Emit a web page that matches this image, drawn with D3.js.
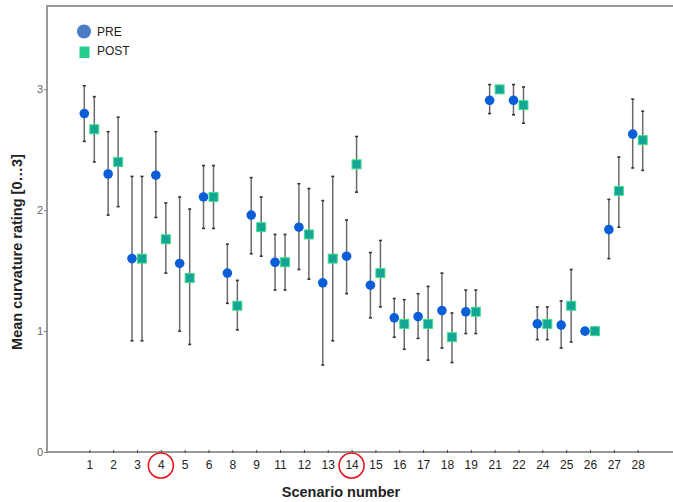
<!DOCTYPE html>
<html>
<head>
<meta charset="utf-8">
<script src="https://cdn.jsdelivr.net/npm/d3@7"></script>
<style>
  body { margin: 0; background: #fff; }
  svg { display: block; font-family: "Liberation Sans", Arial, sans-serif; }
</style>
</head>
<body>
<svg id="chart" width="673" height="502"></svg>
<script>
const scenarios = ['1', '2', '3', '4', '5', '6', '8', '9', '11', '12', '13', '14',
  '15', '16', '17', '18', '19', '21', '22', '24', '25', '26', '27', '28'];
const circled = ['4', '14'];

const preMean = [2.80, 2.30, 1.60, 2.29, 1.56, 2.11, 1.48, 1.96, 1.57, 1.86, 1.40, 1.62,
  1.38, 1.11, 1.12, 1.17, 1.16, 2.91, 2.91, 1.06, 1.05, 1.00, 1.84, 2.63];
const preLow = [2.57, 1.96, 0.92, 1.94, 1.00, 1.85, 1.23, 1.64, 1.34, 1.51, 0.72, 1.31,
  1.11, 0.95, 0.94, 0.86, 0.98, 2.80, 2.79, 0.93, 0.86, 1.00, 1.60, 2.35];
const preHigh = [3.03, 2.65, 2.28, 2.65, 2.11, 2.37, 1.72, 2.27, 1.80, 2.22, 2.08, 1.92,
  1.65, 1.27, 1.31, 1.48, 1.34, 3.04, 3.04, 1.20, 1.25, 1.00, 2.09, 2.92];

const postMean = [2.67, 2.40, 1.60, 1.76, 1.44, 2.11, 1.21, 1.86, 1.57, 1.80, 1.60, 2.38,
  1.48, 1.06, 1.06, 0.95, 1.16, 3.00, 2.87, 1.06, 1.21, 1.00, 2.16, 2.58];
const postLow = [2.40, 2.03, 0.92, 1.48, 0.89, 1.85, 1.01, 1.62, 1.34, 1.43, 0.92, 2.15,
  1.20, 0.85, 0.76, 0.74, 0.98, 3.00, 2.72, 0.93, 0.91, 1.00, 1.86, 2.33];
const postHigh = [2.94, 2.77, 2.28, 2.06, 2.01, 2.37, 1.42, 2.11, 1.80, 2.18, 2.28, 2.61,
  1.75, 1.26, 1.37, 1.15, 1.34, 3.00, 3.02, 1.20, 1.51, 1.00, 2.44, 2.82];

const yTicks = [0, 1, 2, 3];

const svg = d3.select('#chart');
const m = { left: 47, top: 6, bottom: 452, right: 673 };

const x = d3.scalePoint().domain(scenarios).range([89.3, 637.7]);
const y = d3.scaleLinear().domain([0, 3.69]).range([m.bottom, m.top]);

const series = [
  { name: 'PRE', mean: preMean, low: preLow, high: preHigh, dx: -5 },
  { name: 'POST', mean: postMean, low: postLow, high: postHigh, dx: 5 }
];

// frame
svg.append('path')
  .attr('d', `M${m.right},${m.top}H${m.left}V${m.bottom}H${m.right}`)
  .attr('fill', 'none')
  .attr('stroke', '#999')
  .attr('stroke-width', 2);

// y axis
const yAxis = svg.append('g')
  .attr('transform', `translate(${m.left},0)`)
  .call(d3.axisLeft(y).tickValues(yTicks).tickSize(3).tickFormat(d3.format('d')));
yAxis.select('.domain').remove();
yAxis.selectAll('line').attr('stroke', '#777');
yAxis.selectAll('text').attr('fill', '#666').style('font-size', '11px').attr('x', -4);

// x axis
const xAxis = svg.append('g')
  .attr('transform', `translate(0,${m.bottom})`)
  .call(d3.axisBottom(x).tickSize(2));
xAxis.select('.domain').remove();
xAxis.selectAll('line').attr('stroke', '#444').attr('y1', -2).attr('y2', 1);
xAxis.selectAll('text').attr('fill', '#222').style('font-size', '12px').attr('y', 8);

// red circles round scenario labels
svg.selectAll('.mark')
  .data(circled)
  .enter()
  .append('circle')
  .attr('class', 'mark')
  .attr('cx', d => x(d))
  .attr('cy', 465.5)
  .attr('r', 12.5)
  .attr('fill', 'none')
  .attr('stroke', '#e8181e')
  .attr('stroke-width', 1.6);

// axis titles
svg.append('text')
  .attr('x', 341)
  .attr('y', 497)
  .attr('text-anchor', 'middle')
  .style('font-size', '14.5px')
  .style('font-weight', 'bold')
  .attr('fill', '#222')
  .text('Scenario number');

svg.append('text')
  .attr('transform', 'translate(22,252) rotate(-90)')
  .attr('text-anchor', 'middle')
  .style('font-size', '14.5px')
  .style('font-weight', 'bold')
  .attr('fill', '#222')
  .text('Mean curvature rating [0…3]');

// error bars
series.forEach(s => {
  const g = svg.append('g').attr('class', `err ${s.name}`);
  const rows = scenarios.map((c, i) => ({ c, lo: s.low[i], hi: s.high[i] }))
    .filter(r => r.hi > r.lo);
  const bars = g.selectAll('g').data(rows).enter().append('g')
    .attr('transform', r => `translate(${x(r.c) + s.dx},0)`);
  bars.append('line')
    .attr('y1', r => y(r.lo)).attr('y2', r => y(r.hi))
    .attr('stroke', '#6a6a6a').attr('stroke-width', 1.5);
  bars.selectAll('.cap')
    .data(r => [r.lo, r.hi])
    .enter()
    .append('line')
    .attr('x1', -1.5).attr('x2', 1.5)
    .attr('y1', v => y(v)).attr('y2', v => y(v))
    .attr('stroke', '#333').attr('stroke-width', 1.6);
});

// PRE circles
svg.append('g')
  .selectAll('circle')
  .data(scenarios.map((c, i) => ({ c, v: preMean[i] })))
  .enter()
  .append('circle')
  .attr('cx', d => x(d.c) - 5)
  .attr('cy', d => y(d.v))
  .attr('r', 4.8)
  .attr('fill', '#0a5fd8');

// POST squares
svg.append('g')
  .selectAll('rect')
  .data(scenarios.map((c, i) => ({ c, v: postMean[i] })))
  .enter()
  .append('rect')
  .attr('x', d => x(d.c) + 5 - 4.5)
  .attr('y', d => y(d.v) - 4.5)
  .attr('width', 9)
  .attr('height', 9)
  .attr('fill', '#13a596')
  .attr('stroke', '#45dd8a')
  .attr('stroke-width', 1);

// legend
const legend = svg.append('g');
legend.append('circle')
  .attr('cx', 84).attr('cy', 31.5).attr('r', 7)
  .attr('fill', '#4a7cc4');
legend.append('rect')
  .attr('x', 79.5).attr('y', 46.5).attr('width', 10).attr('height', 11.5)
  .attr('fill', '#26cc8c');
legend.append('text')
  .attr('x', 97).attr('y', 36)
  .style('font-size', '12px').attr('fill', '#222')
  .text('PRE');
legend.append('text')
  .attr('x', 97).attr('y', 55)
  .style('font-size', '12px').attr('fill', '#222')
  .text('POST');
</script>
</body>
</html>
